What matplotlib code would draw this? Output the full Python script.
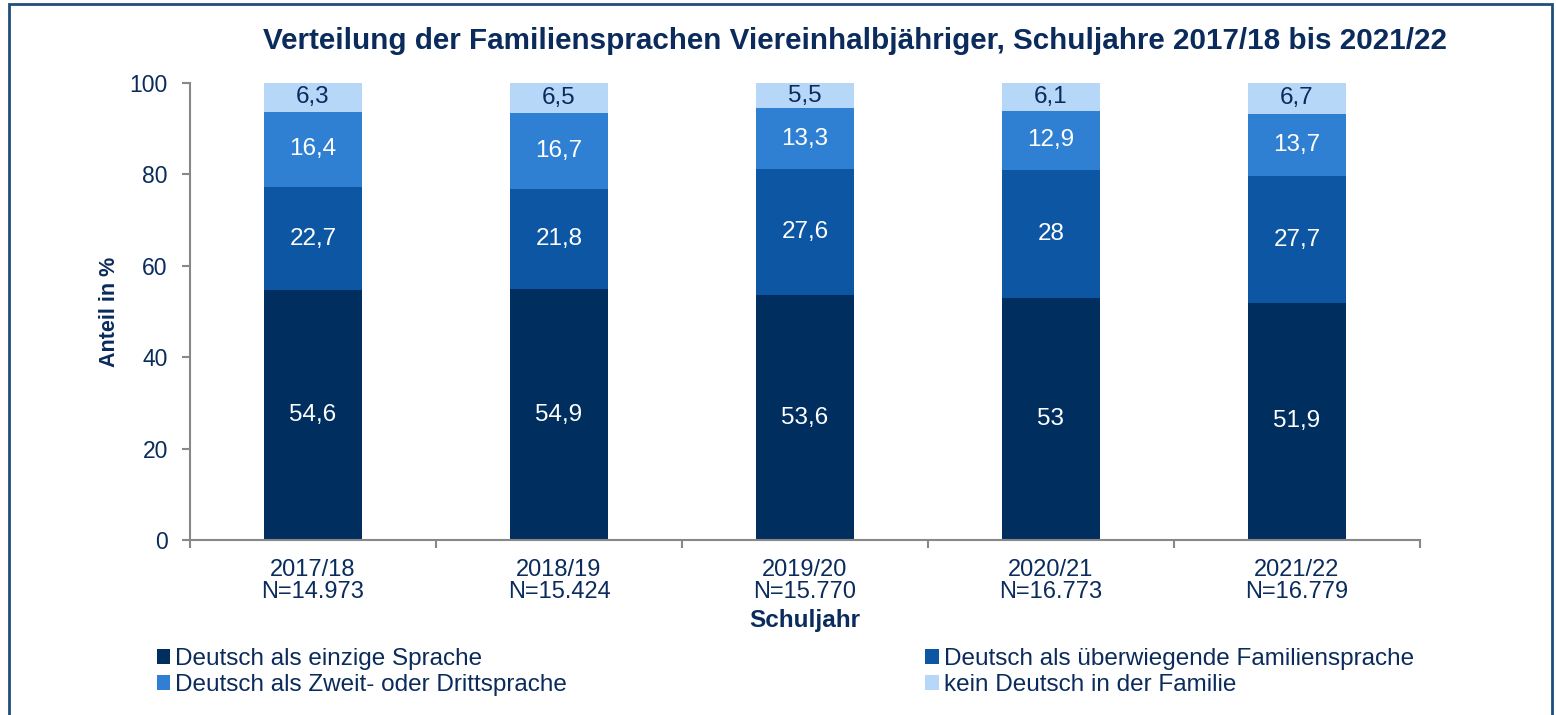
import matplotlib
matplotlib.use("Agg")
import matplotlib.pyplot as plt
from matplotlib.patches import Rectangle, Patch
import numpy as np

plt.rcParams['font.family'] = ['Liberation Sans', 'DejaVu Sans']

years = ["2017/18", "2018/19", "2019/20", "2020/21", "2021/22"]
n_labels = ["N=14.973", "N=15.424", "N=15.770", "N=16.773", "N=16.779"]
einzige = [54.6, 54.9, 53.6, 53.0, 51.9]
ueberwiegend = [22.7, 21.8, 27.6, 28.0, 27.7]
zweit = [16.4, 16.7, 13.3, 12.9, 13.7]
kein = [6.3, 6.5, 5.5, 6.1, 6.7]
label_texts = [["54,6", "54,9", "53,6", "53", "51,9"],
               ["22,7", "21,8", "27,6", "28", "27,7"],
               ["16,4", "16,7", "13,3", "12,9", "13,7"],
               ["6,3", "6,5", "5,5", "6,1", "6,7"]]
series_names = ["Deutsch als einzige Sprache", "Deutsch als überwiegende Familiensprache",
                "Deutsch als Zweit- oder Drittsprache", "kein Deutsch in der Familie"]
colors = ["#002F5F", "#0D56A3", "#2F80D2", "#B6D7F7"]
text_colors = ["white", "white", "white", "#0A2B5C"]
navy = "#0A2B5C"

fig = plt.figure(figsize=(15.56, 7.15), dpi=100)
ax = fig.add_axes([190/1556, 1-540/715, 1230/1556, 457/715])

x = np.arange(len(years))
bottom = np.zeros(len(years))
for vals, c, tc, lt in zip([einzige, ueberwiegend, zweit, kein], colors, text_colors, label_texts):
    ax.bar(x, vals, bottom=bottom, width=0.4, color=c, edgecolor='none')
    for i, (b, v) in enumerate(zip(bottom, vals)):
        ax.text(x[i], b + v/2, lt[i], ha='center', va='center', color=tc, fontsize=17.5)
    bottom = bottom + np.array(vals)

ax.set_xlim(-0.5, len(years) - 0.5)
ax.set_ylim(0, 100)
ax.set_yticks([0, 20, 40, 60, 80, 100])
ax.set_yticklabels(["0", "20", "40", "60", "80", "100"], fontsize=16.5, color=navy)
ax.set_xticks(x)
ax.set_xticklabels([f"{y}\n{n}" for y, n in zip(years, n_labels)], fontsize=17, color=navy, linespacing=1.0)
ax.tick_params(axis='x', length=0, pad=14)
ax.set_xticks(np.arange(-0.5, len(years), 1.0), minor=True)
ax.tick_params(axis='x', which='minor', length=6, color='#888888', width=1.5, direction='out')
ax.tick_params(axis='y', length=6, color='#888888', width=1.5, direction='out', pad=10)
for s in ['top', 'right']:
    ax.spines[s].set_visible(False)
for s in ['left', 'bottom']:
    ax.spines[s].set_color('#888888')
    ax.spines[s].set_linewidth(1.5)

ax.set_xlabel("Schuljahr", fontsize=17.5, fontweight='bold', color=navy, labelpad=4)
ax.set_ylabel("Anteil in %", fontsize=15.5, fontweight='bold', color=navy, labelpad=7)

fig.text(855/1556, 1-41/715, "Verteilung der Familiensprachen Viereinhalbjähriger, Schuljahre 2017/18 bis 2021/22",
         ha='center', va='center', fontsize=21.3, fontweight='bold', color=navy)

# legend
handles = [Patch(facecolor=c, edgecolor='none') for c in colors]
order = [0, 2, 1, 3]
leg = fig.legend([handles[i] for i in order], [series_names[i] for i in order],
                 loc='center left', bbox_to_anchor=(147/1556, 1-672/715), ncol=2,
                 frameon=False, fontsize=17.5, handlelength=0.55, handleheight=0.55,
                 handletextpad=0.2, columnspacing=14.75, labelspacing=0.18, borderaxespad=0)
for t in leg.get_texts():
    t.set_color(navy)

# frame
fig.patches.append(Rectangle((9/1556, -0.05), (1552-9)/1556, 1.05 - 4/715, transform=fig.transFigure,
                             fill=False, edgecolor='#1F4E79', linewidth=2))

fig.savefig("out.png", dpi=100)
